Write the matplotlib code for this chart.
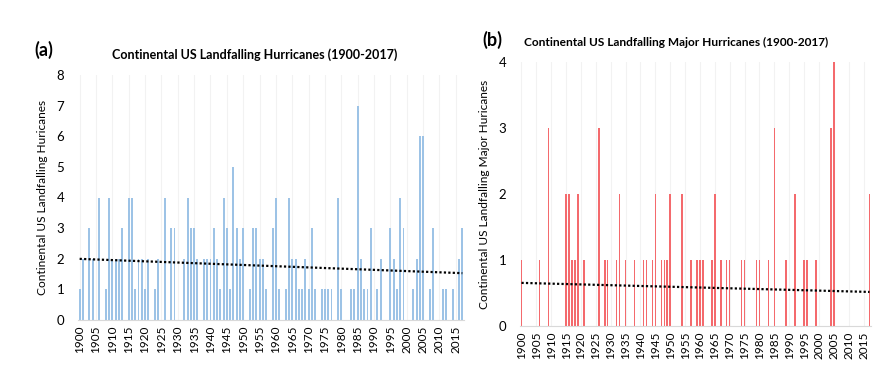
import numpy as np
import matplotlib.pyplot as plt

plt.rcParams['font.family'] = ['Lato', 'DejaVu Sans']

years = np.arange(1900, 2018)

# all landfalling hurricanes (years not listed = 0)
all_years = [1900, 1901, 1903, 1904, 1906, 1908, 1909, 1910, 1911, 1912, 1913, 1915, 1916,
             1917, 1918, 1919, 1920, 1921, 1923, 1924, 1926, 1928, 1929, 1932, 1933, 1934,
             1935, 1936, 1938, 1939, 1940, 1941, 1942, 1943, 1944, 1945, 1946, 1947, 1948,
             1949, 1950, 1952, 1953, 1954, 1955, 1956, 1957, 1959, 1960, 1961, 1963, 1964,
             1965, 1966, 1967, 1968, 1969, 1970, 1971, 1972, 1974, 1975, 1976, 1977, 1979,
             1980, 1983, 1984, 1985, 1986, 1987, 1988, 1989, 1991, 1992, 1995, 1996, 1997,
             1998, 1999, 2002, 2003, 2004, 2005, 2007, 2008, 2011, 2012, 2014, 2016, 2017]
all_counts = [1, 2, 3, 2, 4, 1, 4, 2, 2, 2, 3, 4, 4,
              1, 2, 2, 1, 2, 1, 2, 4, 3, 3, 2, 4, 3,
              3, 2, 2, 2, 2, 3, 2, 1, 4, 3, 1, 5, 3,
              2, 3, 1, 3, 3, 2, 2, 1, 3, 4, 1, 1, 4,
              2, 2, 1, 1, 2, 1, 3, 1, 1, 1, 1, 1, 4,
              1, 1, 1, 7, 2, 1, 1, 3, 1, 2, 3, 2, 1,
              4, 3, 1, 2, 6, 6, 1, 3, 1, 1, 1, 2, 3]

# major landfalling hurricanes
major_years = [1900, 1906, 1909, 1915, 1916, 1917, 1918, 1919, 1921, 1926, 1928, 1929, 1932,
               1933, 1935, 1938, 1941, 1942, 1944, 1945, 1947, 1948, 1949, 1950, 1954, 1957,
               1959, 1960, 1961, 1964, 1965, 1967, 1969, 1970, 1974, 1975, 1979, 1980, 1983,
               1985, 1989, 1992, 1995, 1996, 1999, 2004, 2005, 2017]
major_counts = [1, 1, 3, 2, 2, 1, 1, 2, 1, 3, 1, 1, 1,
                2, 1, 1, 1, 1, 1, 2, 1, 1, 1, 2, 2, 1,
                1, 1, 1, 1, 2, 1, 1, 1, 1, 1, 1, 1, 1,
                3, 1, 2, 1, 1, 1, 3, 4, 2]

tick_years = list(range(1900, 2016, 5))

hur = np.zeros(len(years))
hur[np.array(all_years) - 1900] = all_counts
maj = np.zeros(len(years))
maj[np.array(major_years) - 1900] = major_counts

W, H = 892, 367
fig = plt.figure(figsize=(W / 100, H / 100), dpi=100)


def panel(rect, vals, color, width, ymax, ylabel):
    ax = fig.add_axes(rect)
    ax.bar(years, vals, width=width, color=color, zorder=2)
    k, b = np.polyfit(years, vals, 1)
    ax.plot(years, k * years + b, color='black', linestyle=(0, (1, 1)), lw=1.6, zorder=3)
    ax.set_xlim(1899.5, 2017.5)
    ax.set_ylim(0, ymax)
    ax.set_yticks(range(ymax + 1))
    ax.set_xticks(tick_years)
    ax.set_xticklabels([str(t) for t in tick_years], rotation=90, fontsize=8.5)
    ax.tick_params(axis='y', labelsize=9.5, length=0, pad=10)
    ax.tick_params(axis='x', length=0, pad=4)
    for s in ['top', 'right', 'left']:
        ax.spines[s].set_visible(False)
    ax.spines['bottom'].set_color('#d9d9d9')
    ax.grid(axis='x', color='#f2f2f2', lw=0.8, zorder=0)
    ax.set_ylabel(ylabel, fontsize=8.6, labelpad=6)
    return ax


ax1 = panel([78 / W, 1 - 320 / H, 386 / W, 245 / H], hur, '#9dc3e6', 0.6, 8,
            'Continental US Landfalling Huricanes')
ax2 = panel([520 / W, 1 - 326 / H, 351 / W, 264 / H], maj, '#f46a6d', 0.5, 4,
            'Continental US Landfalling Major Huricanes')

fig.text(255 / W, 1 - 55 / H, 'Continental US Landfalling Hurricanes (1900-2017)',
         ha='center', va='center', fontsize=9, fontweight='bold')
fig.text(676 / W, 1 - 42 / H, 'Continental US Landfalling Major Hurricanes (1900-2017)',
         ha='center', va='center', fontsize=8.6, fontweight='bold')
fig.text(44 / W, 1 - 50 / H, '(a)', ha='center', va='center', fontsize=13, fontweight='bold')
fig.text(492 / W, 1 - 40 / H, '(b)', ha='center', va='center', fontsize=13, fontweight='bold')

fig.savefig('out.png', dpi=100)
